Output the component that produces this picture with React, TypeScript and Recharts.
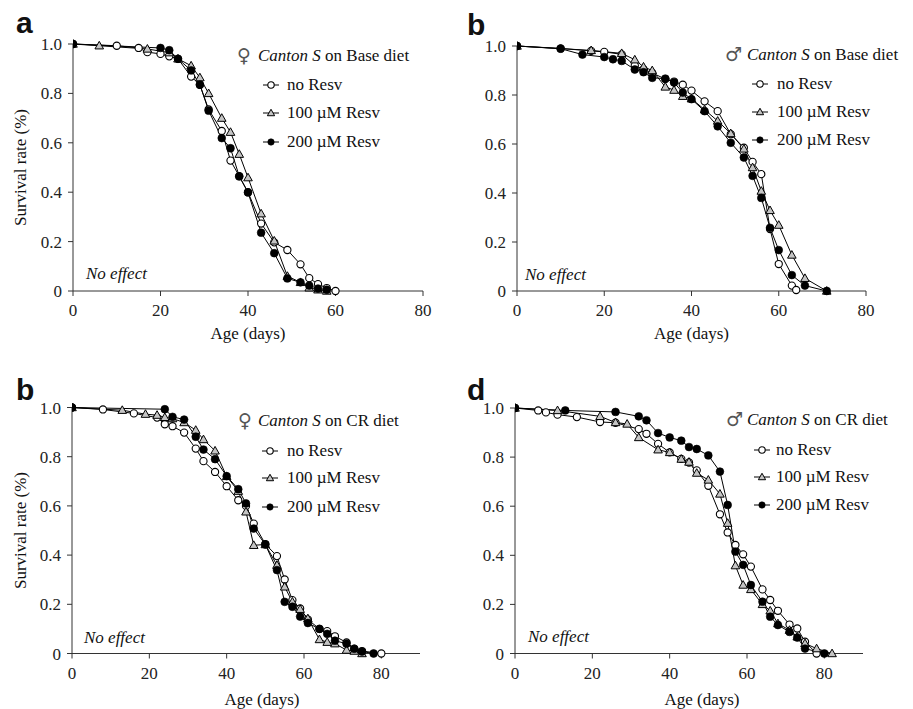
import React from 'react';
import { LineChart, Line, XAxis, YAxis, Legend } from 'recharts';

type Pt = [number, number];

const xTicks = [0, 20, 40, 60, 80];
const yTicks = [0, 0.2, 0.4, 0.6, 0.8, 1.0];
const seriesNames = ['no Resv', '100 \u00b5M Resv', '200 \u00b5M Resv'];

// a: female, Base diet
const aNoResv: Pt[] = [[0, 1], [10, 0.993], [15, 0.984], [17, 0.967], [20, 0.96], [22, 0.95], [24, 0.94], [27, 0.868], [29, 0.835], [31, 0.735], [34, 0.648], [36, 0.528], [38, 0.465], [40, 0.4], [43, 0.273], [46, 0.197], [49, 0.166], [52, 0.108], [54, 0.052], [56, 0.028], [58, 0.012], [60, 0]];
const a100: Pt[] = [[0, 1], [6, 0.993], [17, 0.98], [22, 0.965], [24, 0.94], [27, 0.912], [29, 0.864], [31, 0.8], [34, 0.7], [36, 0.643], [38, 0.554], [40, 0.459], [43, 0.313], [46, 0.203], [49, 0.06], [52, 0.035], [54, 0.013], [56, 0.005], [58, 0]];
const a200: Pt[] = [[0, 1], [20, 0.984], [22, 0.975], [24, 0.94], [27, 0.893], [29, 0.835], [31, 0.73], [34, 0.619], [36, 0.578], [38, 0.464], [40, 0.399], [43, 0.236], [46, 0.153], [49, 0.051], [52, 0.035], [54, 0.022], [56, 0.01], [58, 0.005]];

// b: male, Base diet
const bNoResv: Pt[] = [[0, 1], [10, 0.99], [17, 0.98], [20, 0.976], [24, 0.966], [27, 0.92], [29, 0.905], [31, 0.89], [34, 0.865], [36, 0.855], [38, 0.842], [40, 0.818], [43, 0.774], [46, 0.734], [49, 0.64], [52, 0.585], [54, 0.527], [56, 0.477], [58, 0.253], [60, 0.11], [63, 0.022], [64, 0.004]];
const b100: Pt[] = [[0, 1], [17, 0.982], [24, 0.97], [27, 0.944], [29, 0.915], [31, 0.9], [34, 0.833], [36, 0.82], [38, 0.795], [40, 0.785], [43, 0.74], [46, 0.694], [49, 0.643], [52, 0.58], [54, 0.504], [56, 0.408], [58, 0.329], [60, 0.269], [63, 0.147], [66, 0.052], [71, 0]];
const b200: Pt[] = [[0, 1], [10, 0.989], [15, 0.965], [20, 0.955], [22, 0.946], [24, 0.939], [27, 0.904], [29, 0.893], [31, 0.87], [34, 0.867], [36, 0.851], [38, 0.81], [40, 0.783], [43, 0.734], [46, 0.672], [49, 0.605], [52, 0.545], [54, 0.47], [56, 0.38], [58, 0.258], [60, 0.167], [63, 0.065], [66, 0.022], [71, 0]];

// c: female, CR diet
const cNoResv: Pt[] = [[0, 1], [8, 0.992], [16, 0.976], [22, 0.959], [24, 0.932], [26, 0.924], [29, 0.898], [32, 0.833], [34, 0.782], [37, 0.738], [40, 0.68], [43, 0.623], [45, 0.6], [47, 0.528], [50, 0.445], [53, 0.396], [55, 0.301], [57, 0.217], [59, 0.183], [61, 0.138], [64, 0.1], [66, 0.091], [68, 0.07], [71, 0.045], [73, 0.02], [75, 0.01], [80, 0]];
const c100: Pt[] = [[0, 1], [13, 0.989], [19, 0.973], [22, 0.969], [24, 0.96], [26, 0.955], [29, 0.939], [32, 0.908], [34, 0.87], [37, 0.824], [40, 0.72], [43, 0.66], [45, 0.576], [47, 0.44], [50, 0.443], [53, 0.359], [55, 0.271], [57, 0.21], [59, 0.18], [61, 0.142], [64, 0.057], [66, 0.046], [68, 0.04], [71, 0.014], [73, 0.01], [75, 0]];
const c200: Pt[] = [[0, 1], [24, 0.993], [26, 0.962], [29, 0.951], [32, 0.881], [34, 0.829], [37, 0.79], [40, 0.721], [43, 0.668], [45, 0.61], [47, 0.508], [50, 0.443], [53, 0.339], [55, 0.21], [57, 0.19], [59, 0.15], [61, 0.124], [64, 0.1], [66, 0.08], [68, 0.052], [71, 0.04], [73, 0.019], [75, 0.008], [78, 0]];

// d: male, CR diet
const dNoResv: Pt[] = [[0, 1], [6, 0.99], [8, 0.982], [11, 0.973], [16, 0.963], [22, 0.943], [26, 0.94], [32, 0.914], [34, 0.895], [37, 0.854], [40, 0.819], [43, 0.793], [45, 0.778], [47, 0.746], [50, 0.683], [53, 0.567], [55, 0.493], [57, 0.442], [59, 0.404], [61, 0.354], [64, 0.261], [66, 0.218], [68, 0.174], [71, 0.118], [73, 0.102], [75, 0.048], [78, 0]];
const d100: Pt[] = [[0, 1], [11, 0.99], [22, 0.966], [26, 0.941], [29, 0.935], [32, 0.88], [37, 0.83], [40, 0.819], [43, 0.792], [45, 0.78], [47, 0.735], [50, 0.707], [53, 0.65], [55, 0.531], [57, 0.358], [59, 0.279], [61, 0.261], [64, 0.2], [66, 0.174], [68, 0.122], [71, 0.095], [73, 0.068], [75, 0.041], [78, 0.02], [82, 0]];
const d200: Pt[] = [[0, 1], [13, 0.99], [26, 0.984], [32, 0.966], [34, 0.95], [37, 0.898], [40, 0.88], [43, 0.867], [45, 0.841], [47, 0.833], [50, 0.807], [53, 0.741], [55, 0.605], [57, 0.415], [59, 0.361], [61, 0.279], [64, 0.211], [66, 0.15], [68, 0.116], [71, 0.088], [73, 0.065], [75, 0.02], [80, 0]];

const SERIF = '"Liberation Serif", "Times New Roman", serif';
const SANS = '"Liberation Sans", Arial, sans-serif';
const FS = 17;

const toRows = (pts: Pt[]) => pts.map(([d, v]) => ({ d, v }));

function OpenMark({ cx, cy, r = 3.6 }: any) {
  return <circle cx={cx} cy={cy} r={r} fill="#fff" stroke="#000" strokeWidth={1.1} />;
}
function TriMark({ cx, cy, s = 1 }: any) {
  const w = 4.3 * s, h1 = 4.4 * s, h2 = 3.2 * s;
  return <polygon points={`${cx},${cy - h1} ${cx + w},${cy + h2} ${cx - w},${cy + h2}`} fill="#c4c4c4" stroke="#000" strokeWidth={1} strokeLinejoin="miter" />;
}
function FillMark({ cx, cy, r = 3.9 }: any) {
  return <circle cx={cx} cy={cy} r={r} fill="#000" stroke="#000" strokeWidth={0.6} />;
}

const markers = [OpenMark, TriMark, FillMark];

interface Cfg {
  left: number; top: number; width: number; height: number;
  margin: { top: number; right: number; bottom: number; left: number };
  xMax: number;
  letter: string; letterX: number; letterTop: number;
  sex: string; diet: string;
  symX: number; titleX: number; titleY: number; markX: number; textX: number; rowsY: number[];
  noX: number; noY: number;
  yLabel: boolean; yLabelX: number;
  xLabelDx: number; xLabelGap: number;
  series: Pt[][];
}

const panels: Cfg[] = [
  {
    left: 0, top: 0, width: 456, height: 354,
    margin: { top: 44, right: 33, bottom: 33, left: 13 }, xMax: 80,
    letter: 'a', letterX: 16, letterTop: 7.6,
    sex: '\u2640', diet: 'Base',
    symX: 237, titleX: 258, titleY: 56, markX: 263, textX: 287, rowsY: [85, 113, 142],
    noX: 86, noY: 274, yLabel: true, yLabelX: 20, xLabelDx: 0, xLabelGap: 48,
    series: [aNoResv, a100, a200],
  },
  {
    left: 450, top: 0, width: 463, height: 354,
    margin: { top: 46, right: 47, bottom: 33, left: 7 }, xMax: 80,
    letter: 'b', letterX: 17, letterTop: 9.6,
    sex: '\u2642', diet: 'Base',
    symX: 275, titleX: 297, titleY: 55, markX: 302, textX: 327, rowsY: [84, 112, 140],
    noX: 75, noY: 275, yLabel: false, yLabelX: 0, xLabelDx: 0, xLabelGap: 48,
    series: [bNoResv, b100, b200],
  },
  {
    left: 0, top: 360, width: 456, height: 349,
    margin: { top: 47.5, right: 36, bottom: 25.5, left: 12 }, xMax: 90,
    letter: 'b', letterX: 16, letterTop: 15.3,
    sex: '\u2640', diet: 'CR',
    symX: 238, titleX: 258, titleY: 61, markX: 262, textX: 287, rowsY: [91, 118, 147],
    noX: 84, noY: 278, yLabel: true, yLabelX: 20, xLabelDx: 16, xLabelGap: 51,
    series: [cNoResv, c100, c200],
  },
  {
    left: 450, top: 360, width: 463, height: 349,
    margin: { top: 48, right: 50, bottom: 25.5, left: 5 }, xMax: 90,
    letter: 'd', letterX: 17, letterTop: 15,
    sex: '\u2642', diet: 'CR',
    symX: 276, titleX: 297, titleY: 60, markX: 304, textX: 326, rowsY: [90, 117, 145],
    noX: 78, noY: 277, yLabel: false, yLabelX: 0, xLabelDx: 13, xLabelGap: 51,
    series: [dNoResv, d100, d200],
  },
];

function LegendBox({ c }: { c: Cfg }) {
  return (
    <div style={{ position: 'relative', width: c.width, height: c.height, fontFamily: SERIF, fontSize: FS, color: '#111', pointerEvents: 'none' }}>
      <span style={{ position: 'absolute', left: c.symX, top: c.titleY - 12, fontSize: 19, lineHeight: '22px', fontFamily: '"DejaVu Sans", sans-serif', color: '#555' }}>{c.sex}</span>
      <span style={{ position: 'absolute', left: c.titleX, top: c.titleY - 9, lineHeight: '18px', whiteSpace: 'nowrap' }}>
        <i>Canton S</i> on {c.diet} diet
      </span>
      {seriesNames.map((name, i) => {
        const M = markers[i];
        return (
          <React.Fragment key={name}>
            <svg style={{ position: 'absolute', left: c.markX - 1, top: c.rowsY[i] - 6 }} width={18} height={12}>
              <line x1={1} y1={6} x2={17} y2={6} stroke="#000" strokeWidth={1} />
              <M cx={9} cy={6} r={3.2} s={0.85} />
            </svg>
            <span style={{ position: 'absolute', left: c.textX, top: c.rowsY[i] - 9, lineHeight: '18px', whiteSpace: 'nowrap' }}>{name}</span>
          </React.Fragment>
        );
      })}
    </div>
  );
}

function Panel({ c }: { c: Cfg }) {
  const tickStyle = { fontFamily: SERIF, fontSize: FS, fill: '#222' };
  return (
    <div style={{ position: 'absolute', left: c.left, top: c.top, width: c.width, height: c.height }}>
      <LineChart width={c.width} height={c.height} margin={c.margin}>
        <XAxis
          type="number" dataKey="d" domain={[0, c.xMax]} ticks={xTicks} allowDataOverflow
          height={30} tickSize={5} tickMargin={8} stroke="#333" tick={tickStyle}
          tickLine={{ stroke: '#333' }} axisLine={{ stroke: '#333' }}
          label={{
            content: (p: any) => {
              const vb = p.viewBox || {};
              return (
                <text x={vb.x + vb.width / 2 + c.xLabelDx} y={vb.y + c.xLabelGap} textAnchor="middle"
                  style={{ fontFamily: SERIF, fontSize: FS, fill: '#111' }}>Age (days)</text>
              );
            },
          }}
        />
        <YAxis
          type="number" domain={[0, 1]} ticks={yTicks} width={60} tickSize={5} tickMargin={6}
          stroke="#333" tick={tickStyle} tickLine={{ stroke: '#333' }} axisLine={{ stroke: '#333' }}
          tickFormatter={(v: number) => (v === 0 ? '0' : v.toFixed(1))}
          label={c.yLabel ? {
            content: (p: any) => {
              const vb = p.viewBox || {};
              const cy = vb.y + vb.height / 2;
              return (
                <text x={c.yLabelX} y={cy} textAnchor="middle" dominantBaseline="central"
                  transform={`rotate(-90, ${c.yLabelX}, ${cy})`}
                  style={{ fontFamily: SERIF, fontSize: FS, fill: '#111' }}>Survival rate (%)</text>
              );
            },
          } : undefined}
        />
        {c.series.map((pts, i) => {
          const M = markers[i];
          return (
            <Line
              key={seriesNames[i]} name={seriesNames[i]} data={toRows(pts)} dataKey="v" type="linear"
              stroke="#000" strokeWidth={1} isAnimationActive={false} activeDot={false}
              dot={(p: any) => <M key={`${i}-${p.index}`} cx={p.cx} cy={p.cy} />}
            />
          );
        })}
        <Legend layout="vertical" align="center" verticalAlign="middle"
          wrapperStyle={{ left: 0, top: 0, width: c.width, height: c.height, pointerEvents: 'none' }}
          content={() => <LegendBox c={c} />} />
      </LineChart>
      <div style={{ position: 'absolute', left: c.letterX, top: c.letterTop, fontFamily: SANS, fontWeight: 'bold', fontSize: 30, lineHeight: '30px', color: '#111' }}>{c.letter}</div>
      <div style={{ position: 'absolute', left: c.noX, top: c.noY - 9, fontFamily: SERIF, fontStyle: 'italic', fontSize: FS, lineHeight: '18px', color: '#111', whiteSpace: 'nowrap' }}>No effect</div>
    </div>
  );
}

export default function App() {
  return (
    <div style={{ position: 'absolute', left: 0, top: 0, width: 913, height: 709, background: '#fff', overflow: 'hidden' }}>
      {panels.map((c, i) => <Panel key={i} c={c} />)}
    </div>
  );
}
